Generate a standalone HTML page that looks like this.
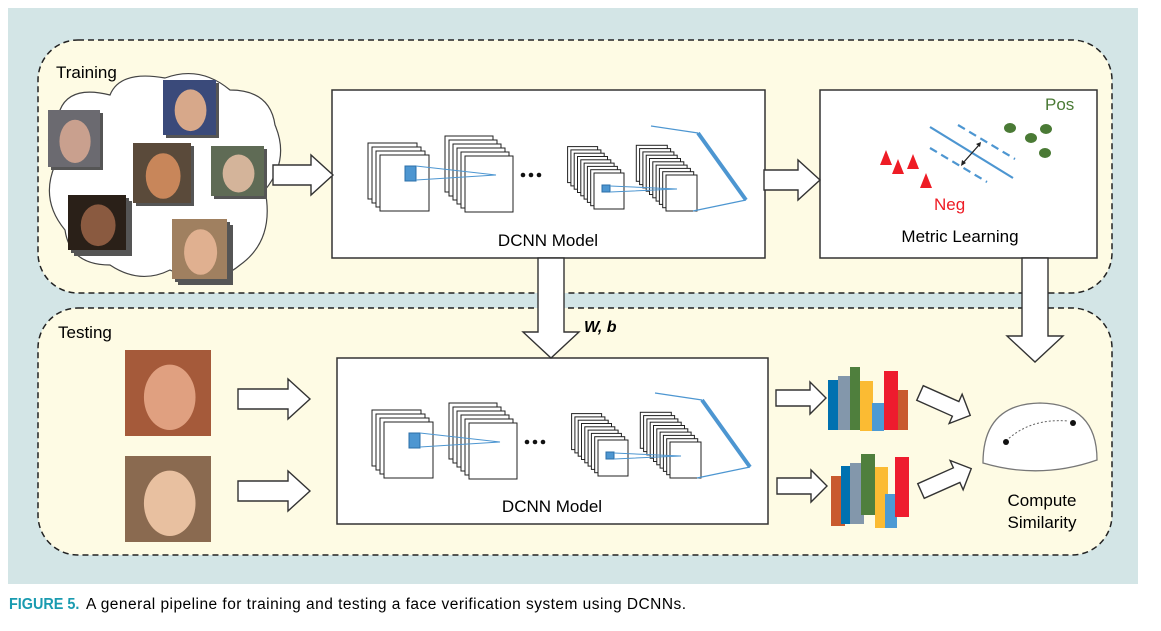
<!DOCTYPE html>
<html><head><meta charset="utf-8"><style>
body{margin:0;background:#fff;width:1161px;height:626px;overflow:hidden}
text{font-family:"Liberation Sans",sans-serif}
</style></head><body>
<svg id="s" width="1161" height="626" xmlns="http://www.w3.org/2000/svg">
<rect x="8" y="8" width="1130" height="576" fill="#d3e5e6"/>
<rect x="38" y="40" width="1074" height="253" rx="40" fill="#fefbe4" stroke="#222" stroke-width="1.5" stroke-dasharray="6,4"/>
<rect x="38" y="308" width="1074" height="247" rx="40" fill="#fefbe4" stroke="#222" stroke-width="1.5" stroke-dasharray="6,4"/>
<text x="56" y="78" font-size="17">Training</text>
<text x="58" y="338" font-size="17">Testing</text>
<path d="M60,110 Q70,85 110,95 Q120,70 165,78 Q200,65 230,90 Q270,90 275,125 Q290,160 265,190 Q275,240 240,265 Q210,290 170,270 Q140,285 110,265 Q70,265 65,230 Q40,200 55,165 Q40,135 60,110 Z" fill="#fff" stroke="#444" stroke-width="1.2"/>
<g id="faces"></g>
<rect x="332" y="90" width="433" height="168" fill="#fff" stroke="#333" stroke-width="1.5"/>
<rect x="820" y="90" width="277" height="168" fill="#fff" stroke="#333" stroke-width="1.5"/>
<rect x="337" y="358" width="431" height="166" fill="#fff" stroke="#333" stroke-width="1.5"/>
<g id="net1"></g><g id="net2" transform="translate(4,267)"></g>
<text x="548" y="246" font-size="17" text-anchor="middle">DCNN Model</text>
<text x="552" y="512" font-size="17" text-anchor="middle">DCNN Model</text>
<text x="1045" y="110" font-size="17" fill="#4a7a35">Pos</text>
<text x="934" y="210" font-size="17" fill="#ee1c25">Neg</text>
<text x="960" y="242" font-size="17" text-anchor="middle">Metric Learning</text>
<g stroke="#4d96d1" stroke-width="2.2"><line x1="930" y1="127" x2="1013" y2="178"/>
<line x1="958" y1="125" x2="1015" y2="159" stroke-dasharray="8,5"/>
<line x1="930" y1="148" x2="987" y2="182" stroke-dasharray="8,5"/></g>
<line x1="963" y1="163" x2="979" y2="145" stroke="#222" stroke-width="1.3"/>
<path d="M961,166 l1,-6 l4,3z M981,142 l-5,2 l4,3z" fill="#222"/>
<g fill="#4a7a35"><ellipse cx="1010" cy="128" rx="6" ry="5"/><ellipse cx="1046" cy="129" rx="6" ry="5"/><ellipse cx="1031" cy="138" rx="6" ry="5"/><ellipse cx="1045" cy="153" rx="6" ry="5"/></g>
<g fill="#ee1c25"><path d="M880,165 l6,-15 l6,15z M892,174 l6,-15 l6,15z M907,169 l6,-15 l6,15z M920,188 l6,-15 l6,15z"/></g>
<text x="584" y="332" font-size="16" font-style="italic" font-weight="bold">W, b</text>
<g id="arrows" fill="#fff" stroke="#333" stroke-width="1.4"></g>
<g id="h1" transform="translate(828,358)"></g>
<g id="h2" transform="translate(831,454)"></g>
<path d="M983,463 Q983,404 1040,403 Q1097,404 1097,460 Q1040,480 983,463Z" fill="#fff" stroke="#777" stroke-width="1.3"/>
<path d="M1006,441 Q1030,418 1068,421" fill="none" stroke="#666" stroke-dasharray="2,2"/>
<circle cx="1006" cy="442" r="3" fill="#111"/><circle cx="1073" cy="423" r="3" fill="#111"/>
<text x="1042" y="506" font-size="17" text-anchor="middle">Compute</text>
<text x="1042" y="528" font-size="17" text-anchor="middle">Similarity</text>
<text x="10" y="609" font-size="16" font-weight="bold" fill="#1a9bb0" transform="scale(0.9,1)">FIGURE 5.</text>
<text x="86" y="609" font-size="15.5" textLength="600">A general pipeline for training and testing a face verification system using DCNNs.</text>
</svg>
<script>
const NS="http://www.w3.org/2000/svg";
function el(p,t,a){const e=document.createElementNS(NS,t);for(const k in a)e.setAttribute(k,a[k]);p.appendChild(e);return e;}
function stack(g,x,y,w,h,n,d){for(let i=n-1;i>=0;i--)el(g,"rect",{x:x-i*d,y:y-i*d,width:w,height:h,fill:"#fff",stroke:"#222","stroke-width":1});}
function net(g){
stack(g,380,155,49,56,4,4);
el(g,"rect",{x:405,y:166,width:11,height:15,fill:"#4d96d1",stroke:"#2b6fa8"});
stack(g,465,156,48,56,6,4);
el(g,"polyline",{points:"416,166 496,175 416,180",fill:"none",stroke:"#4d96d1","stroke-width":1});
for(const cx of [523,531,539])el(g,"circle",{cx:cx,cy:175,r:2.3,fill:"#111"});
stack(g,594,173,30,36,9,3.3);
el(g,"rect",{x:602,y:185,width:8,height:7,fill:"#4d96d1",stroke:"#2b6fa8"});
stack(g,666,175,31,36,10,3.3);
el(g,"polyline",{points:"610,186 677,189 610,192",fill:"none",stroke:"#4d96d1","stroke-width":1});
el(g,"polyline",{points:"651,126 698,133",fill:"none",stroke:"#4d96d1","stroke-width":1.2});
el(g,"line",{x1:698,y1:133,x2:746,y2:200,stroke:"#4d96d1","stroke-width":4});
el(g,"line",{x1:746,y1:200,x2:693,y2:211,stroke:"#4d96d1","stroke-width":1.2});
}
net(document.getElementById("net1"));net(document.getElementById("net2"));
const A=document.getElementById("arrows");
function harr(x,y,len,h,hh,hl,rot){const p=`M0,${-h/2} L${len-hl},${-h/2} L${len-hl},${-hh/2} L${len},0 L${len-hl},${hh/2} L${len-hl},${h/2} L0,${h/2}Z`;el(A,"path",{d:p,transform:`translate(${x},${y}) rotate(${rot||0})`});}
harr(273,175,60,20,40,22);
harr(764,180,56,20,40,22);
harr(551,258,100,26,56,26,90);
harr(1035,258,104,26,56,26,90);
harr(238,399,72,20,40,22);
harr(238,491,72,20,40,22);
harr(776,398,50,16,32,16);
harr(777,486,50,16,32,16);
harr(920,393,55,16,32,16,24);
harr(921,491,55,16,32,16,-24);
function hist(id,bars){const g=document.getElementById(id);for(const b of bars)el(g,"rect",{x:b[0],y:b[1],width:b[2],height:b[3],fill:b[4]});}
hist("h1",[[0,22,12,50,"#0071b0"],[10,18,14,54,"#8397ab"],[22,9,10,63,"#4f7f3d"],[32,23,13,50,"#fbbb33"],[44,45,12,28,"#4c9ad4"],[56,13,14,59,"#ee1c2e"],[70,32,10,40,"#c95a2e"]]);
hist("h2",[[0,22,14,50,"#c95a2e"],[10,12,10,58,"#0071b0"],[19,9,14,61,"#8397ab"],[30,0,14,61,"#4f7f3d"],[44,13,13,61,"#fbbb33"],[54,40,12,34,"#4c9ad4"],[64,3,14,60,"#ee1c2e"]]);
const F=document.getElementById("faces");
function face(x,y,w,h,bg,skin,n){for(let i=n-1;i>=0;i--){el(F,"rect",{x:x+i*3,y:y+i*3,width:w,height:h,fill:i?"#555":bg});}
el(F,"ellipse",{cx:x+w*0.52,cy:y+h*0.55,rx:w*0.3,ry:h*0.38,fill:skin});}
face(48,110,52,57,"#6b6a70","#c9a08e",2);
face(163,80,53,55,"#3a4a7a","#d7a88a",2);
face(133,143,58,60,"#5a4a3a","#c8865a",2);
face(211,146,53,50,"#5f6b55","#d4b49a",2);
face(68,195,58,55,"#2a2018","#8a5a40",3);
face(172,219,55,60,"#a08060","#e0b090",3);
face(125,350,86,86,"#a55a3a","#e0a080",1);
face(125,456,86,86,"#8a6a50","#e8c0a0",1);
</script>
</body></html>
